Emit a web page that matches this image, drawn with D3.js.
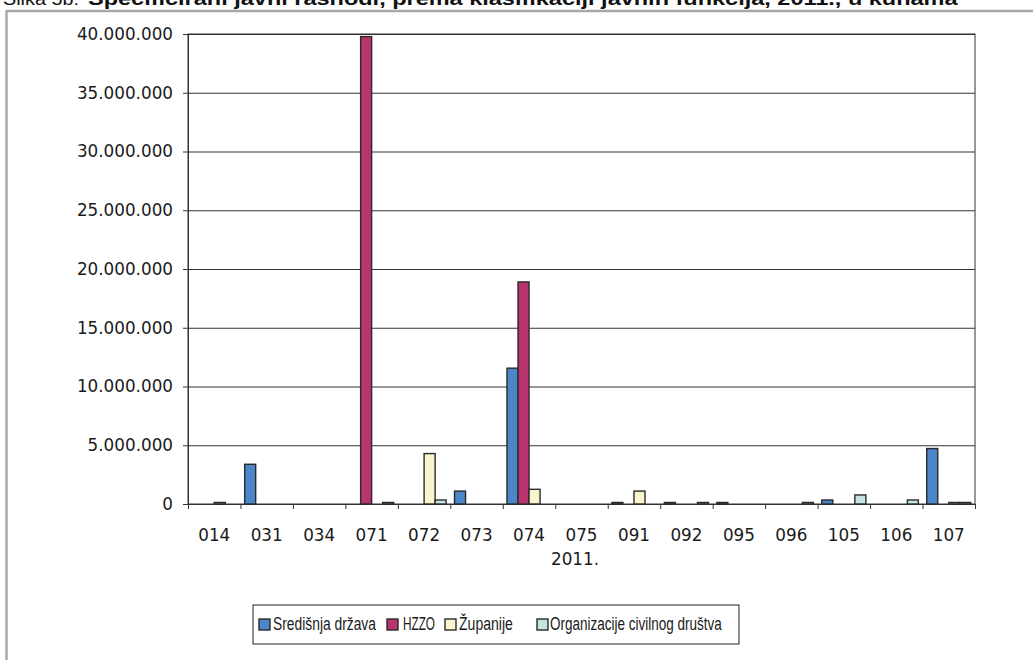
<!DOCTYPE html>
<html>
<head>
<meta charset="utf-8">
<script src="https://cdn.jsdelivr.net/npm/d3@7"></script>
<style>
  html, body { margin: 0; padding: 0; background: #fff; }
  svg { display: block; }
</style>
</head>
<body>
<svg id="chart" width="1033" height="660"></svg>
<script>
// ---- data ----
const categories = ["014","031","034","071","072","073","074","075","091","092","095","096","105","106","107"];
const seriesNames = ["Središnja država","HZZO","Županije","Organizacije civilnog društva"];
const sredisnjaDrzava = [0, 3380000, 0, 0, 0, 1100000, 11560000, 0, 130000, 130000, 130000, 0, 340000, 0, 4720000];
const hzzo = [0, 0, 0, 39780000, 0, 0, 18900000, 0, 0, 0, 0, 0, 0, 0, 0];
const zupanije = [130000, 0, 0, 0, 4290000, 0, 1250000, 0, 1100000, 0, 0, 0, 0, 0, 130000];
const organizacije = [0, 0, 0, 130000, 340000, 0, 0, 0, 0, 130000, 0, 130000, 770000, 340000, 130000];
const yTicks = [0, 5000000, 10000000, 15000000, 20000000, 25000000, 30000000, 35000000, 40000000];
const yearLabel = "2011.";
const titlePrefix = "Slika 5b:";
const titleMain = "Specificirani javni rashodi, prema klasifikaciji javnih funkcija, 2011., u kunama";

// ---- styles / layout ----
const colors = ["#4a86c8", "#b8346f", "#fbf5cd", "#c5e5e3"];
const strokeCol = "#2a2a2a";
const axisFont = "'DejaVu Sans', sans-serif";
const plotL = 188, plotR = 975, plotT = 34, plotB = 504;

const svg = d3.select("#chart");
const allSeries = [sredisnjaDrzava, hzzo, zupanije, organizacije];

// frame lines
svg.append("line").attr("x1", 6.5).attr("x2", 1033).attr("y1", 11).attr("y2", 11)
  .attr("stroke", "#a8a8a8").attr("stroke-width", 2.5);
svg.append("line").attr("x1", 6.5).attr("x2", 6.5).attr("y1", 10).attr("y2", 660)
  .attr("stroke", "#a8a8a8").attr("stroke-width", 2.5);

// helper: horizontally scale a text node to a target width
function fitWidth(sel, x, yb, target) {
  const node = sel.node();
  const w = node.getComputedTextLength();
  const sx = w > 0 ? target / w : 1;
  sel.attr("x", 0).attr("y", 0).attr("transform", `translate(${x},${yb}) scale(${sx},1)`);
}

// title (clipped at the top, as in the source)
const t1 = svg.append("text")
  .attr("font-family", "'Liberation Sans', Arial, sans-serif").attr("font-size", 19)
  .attr("fill", "#111").text(titlePrefix);
fitWidth(t1, 3, 5, 76);
const t2 = svg.append("text")
  .attr("font-family", "'Liberation Sans', Arial, sans-serif").attr("font-size", 19)
  .attr("font-weight", "bold").attr("fill", "#111").text(titleMain);
fitWidth(t2, 88, 5, 870);

// scales
const x0 = d3.scaleBand().domain(categories).range([plotL, plotR]).paddingInner(0).paddingOuter(0);
const x1 = d3.scaleBand().domain(d3.range(seriesNames.length)).range([0, x0.bandwidth()]).paddingInner(0).paddingOuter(0.38);
const y = d3.scaleLinear().domain([0, 40000000]).range([plotB, plotT]);
const fmt = v => d3.format(",")(v).replace(/,/g, ".");

// gridlines
const grid = svg.append("g").attr("transform", `translate(${plotL},0)`)
  .call(d3.axisLeft(y).tickValues(yTicks).tickSize(-(plotR - plotL)).tickFormat(""));
grid.select(".domain").remove();
grid.selectAll("line").attr("stroke", "#333").attr("stroke-width", 1);

// plot border
svg.append("rect").attr("x", plotL).attr("y", plotT).attr("width", plotR - plotL).attr("height", plotB - plotT)
  .attr("fill", "none").attr("stroke", "#333").attr("stroke-width", 1);

// y axis
const yAxis = svg.append("g").attr("transform", `translate(${plotL},0)`)
  .call(d3.axisLeft(y).tickValues(yTicks).tickSize(5).tickPadding(10).tickFormat(fmt));
yAxis.select(".domain").attr("stroke", "#333");
yAxis.selectAll("line").attr("stroke", "#333");
yAxis.selectAll("text").attr("font-family", axisFont).attr("font-size", 16.8).attr("fill", "#1a1a1a");

// x axis ticks at band boundaries
const xi = d3.scaleLinear().domain([0, categories.length]).range([plotL, plotR]);
const xTickAxis = svg.append("g").attr("transform", `translate(0,${plotB})`)
  .call(d3.axisBottom(xi).tickValues(d3.range(categories.length + 1)).tickSize(5).tickFormat(""));
xTickAxis.select(".domain").attr("stroke", "#333");
xTickAxis.selectAll("line").attr("stroke", "#333");

// x labels
const xAxis = svg.append("g").attr("transform", `translate(0,${plotB})`)
  .call(d3.axisBottom(x0).tickSize(0).tickPadding(25));
xAxis.select(".domain").remove();
xAxis.selectAll("text").attr("font-family", axisFont).attr("font-size", 16.8).attr("fill", "#1a1a1a");

svg.append("text").attr("x", 575).attr("y", 565).attr("text-anchor", "middle")
  .attr("font-family", axisFont).attr("font-size", 16.8).attr("fill", "#1a1a1a").text(yearLabel);

// bars
const rows = [];
categories.forEach((c, i) => {
  allSeries.forEach((s, k) => {
    if (s[i] > 0) rows.push({ c, k, v: s[i] });
  });
});
svg.append("g").selectAll("rect").data(rows).join("rect")
  .attr("x", d => x0(d.c) + x1(d.k))
  .attr("width", x1.bandwidth())
  .attr("y", d => y(d.v))
  .attr("height", d => y(0) - y(d.v))
  .attr("fill", d => colors[d.k])
  .attr("stroke", strokeCol).attr("stroke-width", 1.4);

// legend
const legendBox = { x: 253, y: 605, w: 486, h: 39 };
svg.append("rect").attr("x", legendBox.x).attr("y", legendBox.y).attr("width", legendBox.w).attr("height", legendBox.h)
  .attr("fill", "#fff").attr("stroke", "#222").attr("stroke-width", 1);
const legendSwatchX = [259, 387, 445, 537];
const legendTextX = [273, 403, 459, 550];
const legendTextW = [103, 32, 54, 172];
const lg = svg.append("g").selectAll("g").data(seriesNames).join("g");
lg.append("rect")
  .attr("x", (d, i) => legendSwatchX[i]).attr("y", 619)
  .attr("width", 11).attr("height", 11)
  .attr("fill", (d, i) => colors[i]).attr("stroke", strokeCol).attr("stroke-width", 1.4);
lg.each(function (d, i) {
  const t = d3.select(this).append("text")
    .attr("font-family", "'Liberation Sans', Arial, sans-serif")
    .attr("font-size", 18.5).attr("fill", "#1a1a1a").text(d);
  fitWidth(t, legendTextX[i], 630, legendTextW[i]);
});
</script>
</body>
</html>
